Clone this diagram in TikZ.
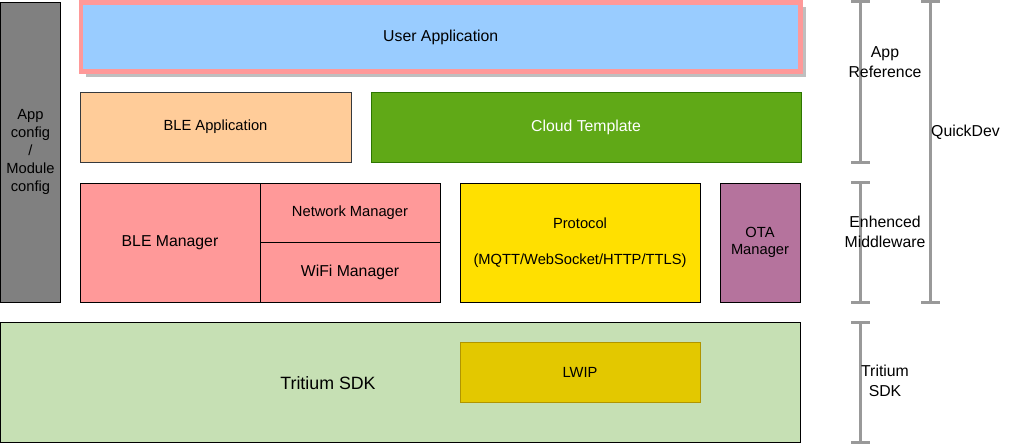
\documentclass[tikz,border=0pt]{standalone}
\usepackage{fontspec}
\setmainfont{Liberation Sans}
\usetikzlibrary{positioning,shadows}
\definecolor{appblue}{HTML}{99CCFF}
\definecolor{pinkline}{HTML}{FF9999}
\definecolor{bleorange}{HTML}{FFCC99}
\definecolor{darkline}{HTML}{36393D}
\definecolor{cloudgreen}{HTML}{60A917}
\definecolor{cloudline}{HTML}{2D7600}
\definecolor{mgrred}{HTML}{FF9999}
\definecolor{protoyellow}{HTML}{FFE000}
\definecolor{otapurple}{HTML}{B5739D}
\definecolor{sdkgreen}{HTML}{C6E0B4}
\definecolor{lwipyellow}{HTML}{E3C800}
\definecolor{lwipline}{HTML}{B09500}
\definecolor{cfggray}{HTML}{808080}
\definecolor{bargray}{HTML}{999999}
\tikzstyle{block} = [draw, rectangle, inner sep=0pt, outer sep=0pt,
    line width=1pt, align=center, font=\fontsize{15.8}{19}\selectfont]
\tikzstyle{small} = [font=\fontsize{14.7}{17.6}\selectfont]
\tikzstyle{bracket} = [draw=bargray, line width=3pt]
\tikzstyle{side} = [align=center, inner sep=0pt, font=\fontsize{15.8}{20}\selectfont]

\begin{document}
\begin{tikzpicture}[x=1pt, y=-1pt, node distance=20pt]
	  \useasboundingbox (0,0) rectangle (1011,444);
	  % left column
	  \node [block, fill=cfggray, minimum width=60pt, minimum height=299.5pt, anchor=north west,
	    font=\fontsize{14.7}{18}\selectfont] (config) at (0.5,2.5) {App\\config\\/\\Module\\config};
	  % app layer
	  \node [block, fill=appblue, draw=pinkline, line width=4.5pt, minimum width=719.5pt, minimum height=69pt,
	    anchor=north west, drop shadow={shadow xshift=5pt, shadow yshift=-5pt, fill=black!25, opacity=1}] (user) at (81,2.5) {User Application};
	  \node [block, small, fill=bleorange, draw=darkline, minimum width=271pt, minimum height=70pt, anchor=north west] (bleapp) at (80,92) {BLE Application};
	  \node [block, fill=cloudgreen, draw=cloudline, text=white, minimum width=430pt, minimum height=70pt, right=of bleapp] (cloud) {Cloud Template};
	  % middleware
	  \node [block, fill=mgrred, minimum width=180pt, minimum height=119pt, anchor=north west] (blemgr) at (80,183) {BLE Manager};
	  \node [block, small, fill=mgrred, minimum width=180pt, minimum height=59.5pt, anchor=north west] (netmgr) at (blemgr.north east) {Network Manager};
	  \node [block, fill=mgrred, minimum width=180pt, minimum height=59.5pt, below=0pt of netmgr] (wifimgr) {WiFi Manager};
	  \node [block, small, fill=protoyellow, minimum width=240pt, minimum height=119pt, right=of netmgr.north east, anchor=north west] (proto) {Protocol\\[18pt](MQTT/WebSocket/HTTP/TTLS)};
	  \node [block, small, fill=otapurple, minimum width=80pt, minimum height=119pt, right=of proto] (ota) {OTA\\Manager};
	  % sdk
	  \node [block, fill=sdkgreen, minimum width=799.5pt, minimum height=120pt, anchor=north west] (sdk) at (0.5,322) {};
	  \node [side, font=\fontsize{17.8}{21}\selectfont] (sdktext) at (328,383) {Tritium SDK};
	  \node [block, small, fill=lwipyellow, draw=lwipline, minimum width=240pt, minimum height=60pt, below=40pt of proto] (lwip) {LWIP};
	  % brackets
	  \draw [bracket] (851,2) -- (870,2) (860,2) -- (860,162) (851,162) -- (870,162);
	  \draw [bracket] (851,182) -- (870,182) (860,182) -- (860,302) (851,302) -- (870,302);
	  \draw [bracket] (851,322) -- (870,322) (860,322) -- (860,442) (851,442) -- (870,442);
	  \draw [bracket] (921,2) -- (940,2) (930,2) -- (930,302) (921,302) -- (940,302);
	  \node [side] (appref) at (885,62) {App\\Reference};
	  \node [side] (middle) at (885,232) {Enhenced\\Middleware};
	  \node [side] (sdkref) at (885,381) {Tritium\\SDK};
	  \node [side, anchor=west] (quick) at (931,132) {QuickDev};
\end{tikzpicture}
\end{document}
